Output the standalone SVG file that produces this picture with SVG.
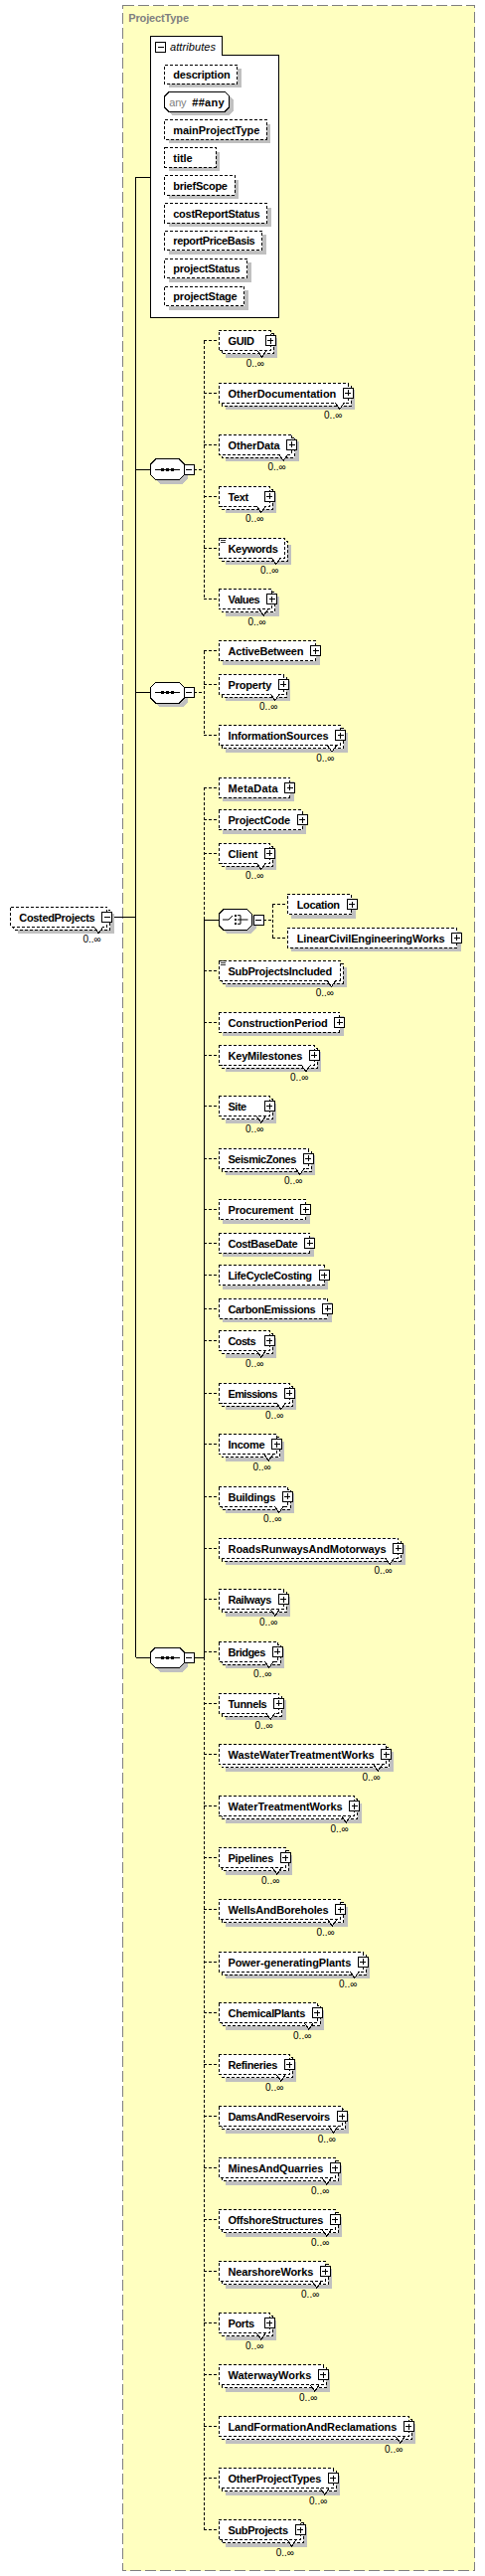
<svg xmlns="http://www.w3.org/2000/svg" xmlns:xlink="http://www.w3.org/1999/xlink" width="488" height="2591" viewBox="0 0 488 2591">
<style>
rect,line,path,polygon{shape-rendering:crispEdges}
.f{fill:#fff;stroke:#000;stroke-width:1;stroke-dasharray:3,2}
.s{fill:#c0c0c0;stroke:none}
.o{fill:#fff;stroke:#000;stroke-width:1}
.l{fill:none;stroke:#000;stroke-width:1}
.d{fill:none;stroke:#000;stroke-width:1;stroke-dasharray:3,2}
.n{font-family:"Liberation Sans",Arial,sans-serif;font-size:11px;font-weight:bold;fill:#000}
.c{font-family:"Liberation Sans",Arial,sans-serif;font-size:10px;fill:#000;text-anchor:end}
.t{font-family:"Liberation Sans",Arial,sans-serif;font-size:11px;font-weight:bold;fill:#808080}
.i{font-family:"Liberation Sans",Arial,sans-serif;font-size:11px;font-style:italic;fill:#000}
.g{font-family:"Liberation Sans",Arial,sans-serif;font-size:11px;fill:#808080}
</style>
<defs>
<g id="pl"><rect class="o" x="-5" y="-5" width="10" height="10"/><path class="l" d="M-3,0H3M0,-3V3"/></g>
<g id="mi"><rect class="o" x="-5" y="-5" width="10" height="10"/><path class="l" d="M-3,0H3"/></g>
<path id="nt" d="M-4.5,-3L0,3.5L4.5,-3" fill="#fff" stroke="#000" stroke-width="1"/>
<path id="eq" d="M0,0H4.5M0,1.8H4.5M0,3.6H4.5" stroke="#000" stroke-width="0.8" fill="none"/>
<g id="seqsym">
<polygon class="s" points="9,-6.3 32.6,-6.3 37.6,-1.3 37.6,9.3 32.6,14.3 9,14.3 4,9.3 4,-1.3"/>
<polygon class="o" points="5,-10.3 28.6,-10.3 33.6,-5.3 33.6,5.3 28.6,10.3 5,10.3 0,5.3 0,-5.3"/>
<path class="l" d="M4,0H29.5"/>
<rect x="10.5" y="-1.5" width="3" height="3" fill="#000"/>
<rect x="15.3" y="-1.5" width="3" height="3" fill="#000"/>
<rect x="20.1" y="-1.5" width="3" height="3" fill="#000"/>
<use xlink:href="#mi" href="#mi" x="38.6" y="0"/>
</g>
</defs>

<rect id="ProjectType" x="123.5" y="5.5" width="354" height="2580" fill="#FFFFC0" stroke="#808080" stroke-width="1" stroke-dasharray="11,4"/>
<text class="t" x="129.3" y="21.5" textLength="60.7">ProjectType</text>

<g id="connectors">
<path class="l" d="M112.7,922.3H136.7M136.7,178.3V1667.3M136.7,178.3H151.7M136.7,472.3H151.7M136.7,696.7H151.7M136.7,1667.3H151.7"/>
<path class="d" d="M195.3,472.3H205.3M205.3,342.7V602.7M205.3,342.7H220M205.3,395H220M205.3,447H220M205.3,499H220M205.3,551H220M205.3,602.7H220"/>
<path class="d" d="M195.3,696.7H205.3M205.3,654.7V739.7M205.3,654.7H220M205.3,688H220M205.3,739.7H220"/>
<path class="l" d="M195.3,1667.3H205.3M205.3,925V1667.3M205.3,925H220"/>
<path class="d" d="M205.3,792V925M205.3,1667.3V2544.7M205.3,792H220M205.3,824.7H220M205.3,858H220M205.3,976H220M205.3,1028H220M205.3,1061.3H220M205.3,1112.7H220M205.3,1165H220M205.3,1216.7H220M205.3,1250H220M205.3,1282.7H220M205.3,1316H220M205.3,1348.7H220M205.3,1401H220M205.3,1452.7H220M205.3,1505H220M205.3,1557H220M205.3,1608.7H220M205.3,1661H220M205.3,1713H220M205.3,1764.7H220M205.3,1816.7H220M205.3,1868.7H220M205.3,1920.7H220M205.3,1973H220M205.3,2024.7H220M205.3,2076.7H220M205.3,2128.7H220M205.3,2180.7H220M205.3,2232.7H220M205.3,2284.7H220M205.3,2336.7H220M205.3,2388.7H220M205.3,2440.7H220M205.3,2492.7H220M205.3,2544.7H220"/>
<path class="d" d="M265,925H274M274,909.7V943M274,909.7H289.3M274,943H289.3"/>
</g>

<g id="CostedProjects" transform="translate(10.7,922.3)">
<rect class="s" x="7" y="-3" width="97" height="20"/><rect class="f" x="3" y="-7" width="97" height="20"/><rect class="f" x="0" y="-10" width="97" height="20"/>
<use href="#nt" xlink:href="#nt" x="88.5" y="13"/><use href="#mi" xlink:href="#mi" x="97" y="0"/>
<text class="n" x="8.6" y="4.5" textLength="76.4">CostedProjects</text><text class="c" x="91" y="26">0..∞</text>
</g>

<g id="attributes">
<path class="o" d="M151.7,36.7H223.3V55.3H280.7V319.3H151.7Z"/>
<use href="#mi" xlink:href="#mi" x="161.5" y="47.5"/>
<text class="i" x="171" y="50.7" textLength="46">attributes</text>
</g>
<g id="a-description" transform="translate(165.7,65)"><rect class="s" x="4" y="4" width="73" height="19.3"/><rect class="f" x="0" y="0" width="73" height="19.3"/><text class="n" x="8.6" y="14" textLength="57.4">description</text></g>
<g id="a-any" transform="translate(165.7,92.7)">
<polygon class="s" points="8,4 65,4 69,8 69,19.3 65,23.3 8,23.3 4,19.3 4,8"/>
<polygon class="o" points="4,0 61,0 65,4 65,15.3 61,19.3 4,19.3 0,15.3 0,4"/>
<text class="g" x="4.6" y="14" textLength="17.3">any</text><text class="n" x="27.6" y="14" textLength="32.3">##any</text>
</g>
<g id="a-mainProjectType" transform="translate(165.7,120.7)"><rect class="s" x="4" y="4" width="102.6" height="19.3"/><rect class="f" x="0" y="0" width="102.6" height="19.3"/><text class="n" x="8.6" y="14" textLength="87">mainProjectType</text></g>
<g id="a-title" transform="translate(165.7,148.7)"><rect class="s" x="4" y="4" width="51.3" height="19.3"/><rect class="f" x="0" y="0" width="51.3" height="19.3"/><text class="n" x="8.6" y="14" textLength="19.4">title</text></g>
<g id="a-briefScope" transform="translate(165.7,176.7)"><rect class="s" x="4" y="4" width="70.3" height="19.3"/><rect class="f" x="0" y="0" width="70.3" height="19.3"/><text class="n" x="8.6" y="14" textLength="54.7">briefScope</text></g>
<g id="a-costReportStatus" transform="translate(165.7,204.7)"><rect class="s" x="4" y="4" width="103" height="19.3"/><rect class="f" x="0" y="0" width="103" height="19.3"/><text class="n" x="8.6" y="14" textLength="87.4">costReportStatus</text></g>
<g id="a-reportPriceBasis" transform="translate(165.7,232.3)"><rect class="s" x="4" y="4" width="98" height="19.3"/><rect class="f" x="0" y="0" width="98" height="19.3"/><text class="n" x="8.6" y="14" textLength="82.4">reportPriceBasis</text></g>
<g id="a-projectStatus" transform="translate(165.7,260.3)"><rect class="s" x="4" y="4" width="83" height="19.3"/><rect class="f" x="0" y="0" width="83" height="19.3"/><text class="n" x="8.6" y="14" textLength="67.4">projectStatus</text></g>
<g id="a-projectStage" transform="translate(165.7,288.3)"><rect class="s" x="4" y="4" width="80" height="19.3"/><rect class="f" x="0" y="0" width="80" height="19.3"/><text class="n" x="8.6" y="14" textLength="64.4">projectStage</text></g>

<g id="seq1"><use href="#seqsym" xlink:href="#seqsym" x="151.7" y="472.3"/></g>
<g id="seq2"><use href="#seqsym" xlink:href="#seqsym" x="151.7" y="696.7"/></g>
<g id="seq3"><use href="#seqsym" xlink:href="#seqsym" x="151.7" y="1667.3"/></g>

<g id="choice" transform="translate(220,925)">
<polygon class="s" points="9,-6.3 32.6,-6.3 37.6,-1.3 37.6,9.3 32.6,14.3 9,14.3 4,9.3 4,-1.3"/>
<polygon class="o" points="5,-10.3 28.6,-10.3 33.6,-5.3 33.6,5.3 28.6,10.3 5,10.3 0,5.3 0,-5.3"/>
<path class="l" d="M4,0H10L14,-4M19,-4.3H22V4.3H19M19,0H29.5" style="shape-rendering:auto"/>
<rect x="16.3" y="-5.3" width="2" height="2" fill="#000"/><rect x="16.3" y="-1" width="2" height="2" fill="#000"/><rect x="16.3" y="3.3" width="2" height="2" fill="#000"/>
<use href="#mi" xlink:href="#mi" x="40" y="0"/>
</g>

<g id="GUID" transform="translate(220,342.7)"><rect class="s" x="7" y="-3" width="52" height="20"/><rect class="f" x="3" y="-7" width="52" height="20"/><rect class="f" x="0" y="-10" width="52" height="20"/><use href="#nt" xlink:href="#nt" x="43.5" y="13"/><use href="#pl" xlink:href="#pl" x="52" y="0"/><text class="n" x="9.5" y="4.5" textLength="26.4">GUID</text><text class="c" x="46" y="26">0..∞</text></g>
<g id="OtherDocumentation" transform="translate(220,395)"><rect class="s" x="7" y="-3" width="130.3" height="20"/><rect class="f" x="3" y="-7" width="130.3" height="20"/><rect class="f" x="0" y="-10" width="130.3" height="20"/><use href="#nt" xlink:href="#nt" x="121.8" y="13"/><use href="#pl" xlink:href="#pl" x="130.3" y="0"/><text class="n" x="9.5" y="4.5" textLength="108.8">OtherDocumentation</text><text class="c" x="124.3" y="26">0..∞</text></g>
<g id="OtherData" transform="translate(220,447)"><rect class="s" x="7" y="-3" width="73.7" height="20"/><rect class="f" x="3" y="-7" width="73.7" height="20"/><rect class="f" x="0" y="-10" width="73.7" height="20"/><use href="#nt" xlink:href="#nt" x="65.2" y="13"/><use href="#pl" xlink:href="#pl" x="73.7" y="0"/><text class="n" x="9.5" y="4.5" textLength="52.2">OtherData</text><text class="c" x="67.7" y="26">0..∞</text></g>
<g id="Text" transform="translate(220,499)"><rect class="s" x="7" y="-3" width="51.3" height="20"/><rect class="f" x="3" y="-7" width="51.3" height="20"/><rect class="f" x="0" y="-10" width="51.3" height="20"/><use href="#nt" xlink:href="#nt" x="42.8" y="13"/><use href="#pl" xlink:href="#pl" x="51.3" y="0"/><text class="n" x="9.5" y="4.5" textLength="20.7">Text</text><text class="c" x="45.3" y="26">0..∞</text></g>
<g id="Keywords" transform="translate(220,551)"><rect class="s" x="7" y="-3" width="66.3" height="20"/><rect class="f" x="3" y="-7" width="66.3" height="20"/><rect class="f" x="0" y="-10" width="66.3" height="20"/><use href="#nt" xlink:href="#nt" x="57.8" y="13"/><use href="#eq" xlink:href="#eq" x="2" y="-9.5"/><text class="n" x="9.5" y="4.5" textLength="50.3">Keywords</text><text class="c" x="60.3" y="26">0..∞</text></g>
<g id="Values" transform="translate(220,602.7)"><rect class="s" x="7" y="-3" width="53.7" height="20"/><rect class="f" x="3" y="-7" width="53.7" height="20"/><rect class="f" x="0" y="-10" width="53.7" height="20"/><use href="#nt" xlink:href="#nt" x="45.2" y="13"/><use href="#pl" xlink:href="#pl" x="53.7" y="0"/><text class="n" x="9.5" y="4.5" textLength="32.2">Values</text><text class="c" x="47.7" y="26">0..∞</text></g>

<g id="ActiveBetween" transform="translate(220,654.7)"><rect class="s" x="4" y="-6" width="97.5" height="20"/><rect class="f" x="0" y="-10" width="97.5" height="20"/><use href="#pl" xlink:href="#pl" x="97.5" y="0"/><text class="n" x="9.5" y="4.5" textLength="76">ActiveBetween</text></g>
<g id="Property" transform="translate(220,688)"><rect class="s" x="7" y="-3" width="65.3" height="20"/><rect class="f" x="3" y="-7" width="65.3" height="20"/><rect class="f" x="0" y="-10" width="65.3" height="20"/><use href="#nt" xlink:href="#nt" x="56.8" y="13"/><use href="#pl" xlink:href="#pl" x="65.3" y="0"/><text class="n" x="9.5" y="4.5" textLength="43.8">Property</text><text class="c" x="59.3" y="26">0..∞</text></g>
<g id="InformationSources" transform="translate(220,739.7)"><rect class="s" x="7" y="-3" width="122.5" height="20"/><rect class="f" x="3" y="-7" width="122.5" height="20"/><rect class="f" x="0" y="-10" width="122.5" height="20"/><use href="#nt" xlink:href="#nt" x="114" y="13"/><use href="#pl" xlink:href="#pl" x="122.5" y="0"/><text class="n" x="9.5" y="4.5" textLength="101">InformationSources</text><text class="c" x="116.5" y="26">0..∞</text></g>

<g id="MetaData" transform="translate(220,792)"><rect class="s" x="4" y="-6" width="71.7" height="20"/><rect class="f" x="0" y="-10" width="71.7" height="20"/><use href="#pl" xlink:href="#pl" x="71.7" y="0"/><text class="n" x="9.5" y="4.5" textLength="50.2">MetaData</text></g>
<g id="ProjectCode" transform="translate(220,824.7)"><rect class="s" x="4" y="-6" width="84" height="20"/><rect class="f" x="0" y="-10" width="84" height="20"/><use href="#pl" xlink:href="#pl" x="84" y="0"/><text class="n" x="9.5" y="4.5" textLength="62.5">ProjectCode</text></g>
<g id="Client" transform="translate(220,858)"><rect class="s" x="7" y="-3" width="51.3" height="20"/><rect class="f" x="3" y="-7" width="51.3" height="20"/><rect class="f" x="0" y="-10" width="51.3" height="20"/><use href="#nt" xlink:href="#nt" x="42.8" y="13"/><use href="#pl" xlink:href="#pl" x="51.3" y="0"/><text class="n" x="9.5" y="4.5" textLength="30">Client</text><text class="c" x="45.3" y="26">0..∞</text></g>
<g id="Location" transform="translate(289.3,909.7)"><rect class="s" x="4" y="-6" width="64.7" height="20"/><rect class="f" x="0" y="-10" width="64.7" height="20"/><use href="#pl" xlink:href="#pl" x="64.7" y="0"/><text class="n" x="9.4" y="4.5" textLength="43.3">Location</text></g>
<g id="LinearCivilEngineeringWorks" transform="translate(289.3,943)"><rect class="s" x="4" y="-6" width="170.4" height="20"/><rect class="f" x="0" y="-10" width="170.4" height="20"/><use href="#pl" xlink:href="#pl" x="170.4" y="0"/><text class="n" x="9.4" y="4.5" textLength="149">LinearCivilEngineeringWorks</text></g>
<g id="SubProjectsIncluded" transform="translate(220,976)"><rect class="s" x="7" y="-3" width="122" height="20"/><rect class="f" x="3" y="-7" width="122" height="20"/><rect class="f" x="0" y="-10" width="122" height="20"/><use href="#nt" xlink:href="#nt" x="113.5" y="13"/><use href="#eq" xlink:href="#eq" x="2" y="-9.5"/><text class="n" x="9.5" y="4.5" textLength="104.7">SubProjectsIncluded</text><text class="c" x="116" y="26">0..∞</text></g>
<g id="ConstructionPeriod" transform="translate(220,1028)"><rect class="s" x="4" y="-6" width="121.7" height="20"/><rect class="f" x="0" y="-10" width="121.7" height="20"/><use href="#pl" xlink:href="#pl" x="121.7" y="0"/><text class="n" x="9.5" y="4.5" textLength="100.2">ConstructionPeriod</text></g>
<g id="KeyMilestones" transform="translate(220,1061.3)"><rect class="s" x="7" y="-3" width="96.3" height="20"/><rect class="f" x="3" y="-7" width="96.3" height="20"/><rect class="f" x="0" y="-10" width="96.3" height="20"/><use href="#nt" xlink:href="#nt" x="87.8" y="13"/><use href="#pl" xlink:href="#pl" x="96.3" y="0"/><text class="n" x="9.5" y="4.5" textLength="74.8">KeyMilestones</text><text class="c" x="90.3" y="26">0..∞</text></g>
<g id="Site" transform="translate(220,1112.7)"><rect class="s" x="7" y="-3" width="51.3" height="20"/><rect class="f" x="3" y="-7" width="51.3" height="20"/><rect class="f" x="0" y="-10" width="51.3" height="20"/><use href="#nt" xlink:href="#nt" x="42.8" y="13"/><use href="#pl" xlink:href="#pl" x="51.3" y="0"/><text class="n" x="9.5" y="4.5" textLength="18.7">Site</text><text class="c" x="45.3" y="26">0..∞</text></g>
<g id="SeismicZones" transform="translate(220,1165)"><rect class="s" x="7" y="-3" width="90.3" height="20"/><rect class="f" x="3" y="-7" width="90.3" height="20"/><rect class="f" x="0" y="-10" width="90.3" height="20"/><use href="#nt" xlink:href="#nt" x="81.8" y="13"/><use href="#pl" xlink:href="#pl" x="90.3" y="0"/><text class="n" x="9.5" y="4.5" textLength="68.8">SeismicZones</text><text class="c" x="84.3" y="26">0..∞</text></g>
<g id="Procurement" transform="translate(220,1216.7)"><rect class="s" x="4" y="-6" width="87.5" height="20"/><rect class="f" x="0" y="-10" width="87.5" height="20"/><use href="#pl" xlink:href="#pl" x="87.5" y="0"/><text class="n" x="9.5" y="4.5" textLength="66">Procurement</text></g>
<g id="CostBaseDate" transform="translate(220,1250)"><rect class="s" x="4" y="-6" width="91.7" height="20"/><rect class="f" x="0" y="-10" width="91.7" height="20"/><use href="#pl" xlink:href="#pl" x="91.7" y="0"/><text class="n" x="9.5" y="4.5" textLength="70.2">CostBaseDate</text></g>
<g id="LifeCycleCosting" transform="translate(220,1282.7)"><rect class="s" x="4" y="-6" width="106" height="20"/><rect class="f" x="0" y="-10" width="106" height="20"/><use href="#pl" xlink:href="#pl" x="106" y="0"/><text class="n" x="9.5" y="4.5" textLength="84.5">LifeCycleCosting</text></g>
<g id="CarbonEmissions" transform="translate(220,1316)"><rect class="s" x="4" y="-6" width="109.7" height="20"/><rect class="f" x="0" y="-10" width="109.7" height="20"/><use href="#pl" xlink:href="#pl" x="109.7" y="0"/><text class="n" x="9.5" y="4.5" textLength="88.2">CarbonEmissions</text></g>
<g id="Costs" transform="translate(220,1348.7)"><rect class="s" x="7" y="-3" width="51.3" height="20"/><rect class="f" x="3" y="-7" width="51.3" height="20"/><rect class="f" x="0" y="-10" width="51.3" height="20"/><use href="#nt" xlink:href="#nt" x="42.8" y="13"/><use href="#pl" xlink:href="#pl" x="51.3" y="0"/><text class="n" x="9.5" y="4.5" textLength="28">Costs</text><text class="c" x="45.3" y="26">0..∞</text></g>
<g id="Emissions" transform="translate(220,1401)"><rect class="s" x="7" y="-3" width="71.3" height="20"/><rect class="f" x="3" y="-7" width="71.3" height="20"/><rect class="f" x="0" y="-10" width="71.3" height="20"/><use href="#nt" xlink:href="#nt" x="62.8" y="13"/><use href="#pl" xlink:href="#pl" x="71.3" y="0"/><text class="n" x="9.5" y="4.5" textLength="49.8">Emissions</text><text class="c" x="65.3" y="26">0..∞</text></g>
<g id="Income" transform="translate(220,1452.7)"><rect class="s" x="7" y="-3" width="58.7" height="20"/><rect class="f" x="3" y="-7" width="58.7" height="20"/><rect class="f" x="0" y="-10" width="58.7" height="20"/><use href="#nt" xlink:href="#nt" x="50.2" y="13"/><use href="#pl" xlink:href="#pl" x="58.7" y="0"/><text class="n" x="9.5" y="4.5" textLength="37.2">Income</text><text class="c" x="52.7" y="26">0..∞</text></g>
<g id="Buildings" transform="translate(220,1505)"><rect class="s" x="7" y="-3" width="69.3" height="20"/><rect class="f" x="3" y="-7" width="69.3" height="20"/><rect class="f" x="0" y="-10" width="69.3" height="20"/><use href="#nt" xlink:href="#nt" x="60.8" y="13"/><use href="#pl" xlink:href="#pl" x="69.3" y="0"/><text class="n" x="9.5" y="4.5" textLength="47.8">Buildings</text><text class="c" x="63.3" y="26">0..∞</text></g>
<g id="RoadsRunwaysAndMotorways" transform="translate(220,1557)"><rect class="s" x="7" y="-3" width="180.7" height="20"/><rect class="f" x="3" y="-7" width="180.7" height="20"/><rect class="f" x="0" y="-10" width="180.7" height="20"/><use href="#nt" xlink:href="#nt" x="172.2" y="13"/><use href="#pl" xlink:href="#pl" x="180.7" y="0"/><text class="n" x="9.5" y="4.5" textLength="159.2">RoadsRunwaysAndMotorways</text><text class="c" x="174.7" y="26">0..∞</text></g>
<g id="Railways" transform="translate(220,1608.7)"><rect class="s" x="7" y="-3" width="65.3" height="20"/><rect class="f" x="3" y="-7" width="65.3" height="20"/><rect class="f" x="0" y="-10" width="65.3" height="20"/><use href="#nt" xlink:href="#nt" x="56.8" y="13"/><use href="#pl" xlink:href="#pl" x="65.3" y="0"/><text class="n" x="9.5" y="4.5" textLength="43.8">Railways</text><text class="c" x="59.3" y="26">0..∞</text></g>
<g id="Bridges" transform="translate(220,1661)"><rect class="s" x="7" y="-3" width="59.3" height="20"/><rect class="f" x="3" y="-7" width="59.3" height="20"/><rect class="f" x="0" y="-10" width="59.3" height="20"/><use href="#nt" xlink:href="#nt" x="50.8" y="13"/><use href="#pl" xlink:href="#pl" x="59.3" y="0"/><text class="n" x="9.5" y="4.5" textLength="37.8">Bridges</text><text class="c" x="53.3" y="26">0..∞</text></g>
<g id="Tunnels" transform="translate(220,1713)"><rect class="s" x="7" y="-3" width="60.7" height="20"/><rect class="f" x="3" y="-7" width="60.7" height="20"/><rect class="f" x="0" y="-10" width="60.7" height="20"/><use href="#nt" xlink:href="#nt" x="52.2" y="13"/><use href="#pl" xlink:href="#pl" x="60.7" y="0"/><text class="n" x="9.5" y="4.5" textLength="39.2">Tunnels</text><text class="c" x="54.7" y="26">0..∞</text></g>
<g id="WasteWaterTreatmentWorks" transform="translate(220,1764.7)"><rect class="s" x="7" y="-3" width="168.7" height="20"/><rect class="f" x="3" y="-7" width="168.7" height="20"/><rect class="f" x="0" y="-10" width="168.7" height="20"/><use href="#nt" xlink:href="#nt" x="160.2" y="13"/><use href="#pl" xlink:href="#pl" x="168.7" y="0"/><text class="n" x="9.5" y="4.5" textLength="147.2">WasteWaterTreatmentWorks</text><text class="c" x="162.7" y="26">0..∞</text></g>
<g id="WaterTreatmentWorks" transform="translate(220,1816.7)"><rect class="s" x="7" y="-3" width="136.7" height="20"/><rect class="f" x="3" y="-7" width="136.7" height="20"/><rect class="f" x="0" y="-10" width="136.7" height="20"/><use href="#nt" xlink:href="#nt" x="128.2" y="13"/><use href="#pl" xlink:href="#pl" x="136.7" y="0"/><text class="n" x="9.5" y="4.5" textLength="115.2">WaterTreatmentWorks</text><text class="c" x="130.7" y="26">0..∞</text></g>
<g id="Pipelines" transform="translate(220,1868.7)"><rect class="s" x="7" y="-3" width="67.3" height="20"/><rect class="f" x="3" y="-7" width="67.3" height="20"/><rect class="f" x="0" y="-10" width="67.3" height="20"/><use href="#nt" xlink:href="#nt" x="58.8" y="13"/><use href="#pl" xlink:href="#pl" x="67.3" y="0"/><text class="n" x="9.5" y="4.5" textLength="45.8">Pipelines</text><text class="c" x="61.3" y="26">0..∞</text></g>
<g id="WellsAndBoreholes" transform="translate(220,1920.7)"><rect class="s" x="7" y="-3" width="122.7" height="20"/><rect class="f" x="3" y="-7" width="122.7" height="20"/><rect class="f" x="0" y="-10" width="122.7" height="20"/><use href="#nt" xlink:href="#nt" x="114.2" y="13"/><use href="#pl" xlink:href="#pl" x="122.7" y="0"/><text class="n" x="9.5" y="4.5" textLength="101.2">WellsAndBoreholes</text><text class="c" x="116.7" y="26">0..∞</text></g>
<g id="Power-generatingPlants" transform="translate(220,1973)"><rect class="s" x="7" y="-3" width="145.3" height="20"/><rect class="f" x="3" y="-7" width="145.3" height="20"/><rect class="f" x="0" y="-10" width="145.3" height="20"/><use href="#nt" xlink:href="#nt" x="136.8" y="13"/><use href="#pl" xlink:href="#pl" x="145.3" y="0"/><text class="n" x="9.5" y="4.5" textLength="123.8">Power-generatingPlants</text><text class="c" x="139.3" y="26">0..∞</text></g>
<g id="ChemicalPlants" transform="translate(220,2024.7)"><rect class="s" x="7" y="-3" width="99.3" height="20"/><rect class="f" x="3" y="-7" width="99.3" height="20"/><rect class="f" x="0" y="-10" width="99.3" height="20"/><use href="#nt" xlink:href="#nt" x="90.8" y="13"/><use href="#pl" xlink:href="#pl" x="99.3" y="0"/><text class="n" x="9.5" y="4.5" textLength="77.8">ChemicalPlants</text><text class="c" x="93.3" y="26">0..∞</text></g>
<g id="Refineries" transform="translate(220,2076.7)"><rect class="s" x="7" y="-3" width="71.3" height="20"/><rect class="f" x="3" y="-7" width="71.3" height="20"/><rect class="f" x="0" y="-10" width="71.3" height="20"/><use href="#nt" xlink:href="#nt" x="62.8" y="13"/><use href="#pl" xlink:href="#pl" x="71.3" y="0"/><text class="n" x="9.5" y="4.5" textLength="49.8">Refineries</text><text class="c" x="65.3" y="26">0..∞</text></g>
<g id="DamsAndReservoirs" transform="translate(220,2128.7)"><rect class="s" x="7" y="-3" width="124" height="20"/><rect class="f" x="3" y="-7" width="124" height="20"/><rect class="f" x="0" y="-10" width="124" height="20"/><use href="#nt" xlink:href="#nt" x="115.5" y="13"/><use href="#pl" xlink:href="#pl" x="124" y="0"/><text class="n" x="9.5" y="4.5" textLength="102.5">DamsAndReservoirs</text><text class="c" x="118" y="26">0..∞</text></g>
<g id="MinesAndQuarries" transform="translate(220,2180.7)"><rect class="s" x="7" y="-3" width="117.3" height="20"/><rect class="f" x="3" y="-7" width="117.3" height="20"/><rect class="f" x="0" y="-10" width="117.3" height="20"/><use href="#nt" xlink:href="#nt" x="108.8" y="13"/><use href="#pl" xlink:href="#pl" x="117.3" y="0"/><text class="n" x="9.5" y="4.5" textLength="95.8">MinesAndQuarries</text><text class="c" x="111.3" y="26">0..∞</text></g>
<g id="OffshoreStructures" transform="translate(220,2232.7)"><rect class="s" x="7" y="-3" width="117.3" height="20"/><rect class="f" x="3" y="-7" width="117.3" height="20"/><rect class="f" x="0" y="-10" width="117.3" height="20"/><use href="#nt" xlink:href="#nt" x="108.8" y="13"/><use href="#pl" xlink:href="#pl" x="117.3" y="0"/><text class="n" x="9.5" y="4.5" textLength="95.8">OffshoreStructures</text><text class="c" x="111.3" y="26">0..∞</text></g>
<g id="NearshoreWorks" transform="translate(220,2284.7)"><rect class="s" x="7" y="-3" width="107.3" height="20"/><rect class="f" x="3" y="-7" width="107.3" height="20"/><rect class="f" x="0" y="-10" width="107.3" height="20"/><use href="#nt" xlink:href="#nt" x="98.8" y="13"/><use href="#pl" xlink:href="#pl" x="107.3" y="0"/><text class="n" x="9.5" y="4.5" textLength="85.8">NearshoreWorks</text><text class="c" x="101.3" y="26">0..∞</text></g>
<g id="Ports" transform="translate(220,2336.7)"><rect class="s" x="7" y="-3" width="51.3" height="20"/><rect class="f" x="3" y="-7" width="51.3" height="20"/><rect class="f" x="0" y="-10" width="51.3" height="20"/><use href="#nt" xlink:href="#nt" x="42.8" y="13"/><use href="#pl" xlink:href="#pl" x="51.3" y="0"/><text class="n" x="9.5" y="4.5" textLength="26.7">Ports</text><text class="c" x="45.3" y="26">0..∞</text></g>
<g id="WaterwayWorks" transform="translate(220,2388.7)"><rect class="s" x="7" y="-3" width="105.3" height="20"/><rect class="f" x="3" y="-7" width="105.3" height="20"/><rect class="f" x="0" y="-10" width="105.3" height="20"/><use href="#nt" xlink:href="#nt" x="96.8" y="13"/><use href="#pl" xlink:href="#pl" x="105.3" y="0"/><text class="n" x="9.5" y="4.5" textLength="83.8">WaterwayWorks</text><text class="c" x="99.3" y="26">0..∞</text></g>
<g id="LandFormationAndReclamations" transform="translate(220,2440.7)"><rect class="s" x="7" y="-3" width="191.3" height="20"/><rect class="f" x="3" y="-7" width="191.3" height="20"/><rect class="f" x="0" y="-10" width="191.3" height="20"/><use href="#nt" xlink:href="#nt" x="182.8" y="13"/><use href="#pl" xlink:href="#pl" x="191.3" y="0"/><text class="n" x="9.5" y="4.5" textLength="169.8">LandFormationAndReclamations</text><text class="c" x="185.3" y="26">0..∞</text></g>
<g id="OtherProjectTypes" transform="translate(220,2492.7)"><rect class="s" x="7" y="-3" width="115.3" height="20"/><rect class="f" x="3" y="-7" width="115.3" height="20"/><rect class="f" x="0" y="-10" width="115.3" height="20"/><use href="#nt" xlink:href="#nt" x="106.8" y="13"/><use href="#pl" xlink:href="#pl" x="115.3" y="0"/><text class="n" x="9.5" y="4.5" textLength="93.8">OtherProjectTypes</text><text class="c" x="109.3" y="26">0..∞</text></g>
<g id="SubProjects" transform="translate(220,2544.7)"><rect class="s" x="7" y="-3" width="82" height="20"/><rect class="f" x="3" y="-7" width="82" height="20"/><rect class="f" x="0" y="-10" width="82" height="20"/><use href="#nt" xlink:href="#nt" x="73.5" y="13"/><use href="#pl" xlink:href="#pl" x="82" y="0"/><text class="n" x="9.5" y="4.5" textLength="60.5">SubProjects</text><text class="c" x="76" y="26">0..∞</text></g>
</svg>
